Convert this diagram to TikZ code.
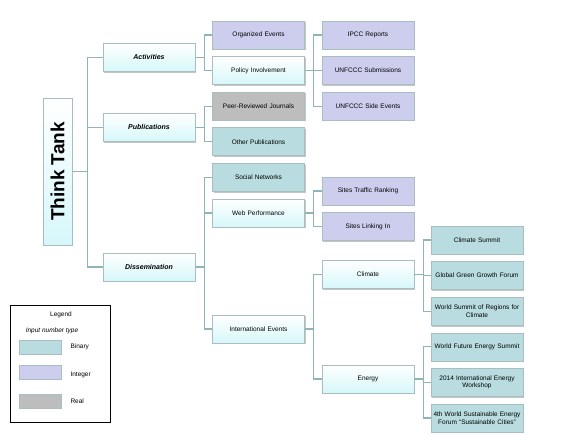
\documentclass[tikz,border=0pt]{standalone}
\usepackage{fontspec}
\setmainfont{Liberation Sans}
\usepackage{xcolor}
\usetikzlibrary{positioning, shadows}

\definecolor{catcyan}{HTML}{D6F7FA}
\definecolor{binteal}{HTML}{B8DCDF}
\definecolor{intlav}{HTML}{CDCDEE}
\definecolor{realgray}{HTML}{BDBDBD}
\definecolor{edgegray}{HTML}{A8BEC1}
\definecolor{branchcol}{HTML}{8FB5B7}

\begin{document}
\begin{tikzpicture}[x=1pt, y=-1pt, node distance=7pt and 17pt]
    \tikzset{
        box/.style={rectangle, draw=edgegray, line width=0.6pt, minimum width=92pt, minimum height=28pt, text width=90pt, align=center, inner sep=1pt, font=\fontsize{6.5}{7.8}\selectfont, drop shadow={shadow xshift=1pt, shadow yshift=-1.3pt, fill=black!45, opacity=0.5}},
        cat/.style={box, top color=white, bottom color=catcyan},
        head/.style={cat, font=\fontsize{7}{8}\selectfont\bfseries\itshape},
        binbox/.style={box, fill=binteal},
        intbox/.style={box, fill=intlav},
        realbox/.style={box, fill=realgray},
        swatch/.style={rectangle, draw=edgegray, line width=0.5pt, minimum width=42pt, minimum height=14pt},
        branch/.style={draw=branchcol, line width=1.2pt}
    }
    \useasboundingbox (0,0) rectangle (580,435);

    % root and first level
    \node (ThinkTank) [cat, minimum width=29pt, minimum height=147pt, text width=, font=\fontsize{19}{19}\selectfont\bfseries] at (57.5,171.5) {\rotatebox{90}{Think Tank}};
    \node (Activities) [head] at (149,57.5) {Activities};
    \node (Publications) [head] at (149,127.5) {Publications};
    \node (Dissemination) [head] at (149,267) {Dissemination};

    % second level
    \node (Organized) [intbox] at (258.5,35) {Organized Events};
    \node (Policy) [cat, below=of Organized] {Policy Involvement};
    \node (PeerRev) [realbox, below=of Policy] {Peer-Reviewed Journals};
    \node (OtherPub) [binbox, below=of PeerRev] {Other Publications};
    \node (Social) [binbox, below=of OtherPub] {Social Networks};
    \node (WebPerf) [cat, below=of Social] {Web Performance};
    \node (IntEvents) [cat] at (258.5,329) {International Events};

    % third level
    \node (IPCC) [intbox] at (368,35) {IPCC Reports};
    \node (UNSub) [intbox, below=of IPCC] {UNFCCC Submissions};
    \node (UNSide) [intbox, below=of UNSub] {UNFCCC Side Events};
    \node (Traffic) [intbox] at (368,191) {Sites Traffic Ranking};
    \node (Linking) [intbox, below=of Traffic] {Sites Linking In};
    \node (Climate) [cat] at (368,274.5) {Climate};
    \node (Energy) [cat] at (368,379) {Energy};

    % fourth level
    \node (ClimSummit) [binbox] at (477,240) {Climate Summit};
    \node (GreenGrowth) [binbox, below=of ClimSummit] {Global Green Growth Forum};
    \node (Regions) [binbox, below=of GreenGrowth] {World Summit of Regions for\\Climate};
    \node (FutureEnergy) [binbox, below=of Regions] {World Future Energy Summit};
    \node (Workshop) [binbox, below=of FutureEnergy] {2014 International Energy\\Workshop};
    \node (SustEnergy) [binbox, below=of Workshop] {4th World Sustainable Energy\\Forum ``Sustainable Cities''};

    % connectors
    \path [branch] (ThinkTank.east) -- ++(15,0) |- (Activities.west);
    \path [branch] (ThinkTank.east) -- ++(15,0) |- (Publications.west);
    \path [branch] (ThinkTank.east) -- ++(15,0) |- (Dissemination.west);
    \path [branch] (Activities.east) -- ++(9,0) |- (Organized.west);
    \path [branch] (Activities.east) -- ++(9,0) |- (Policy.west);
    \path [branch] (Publications.east) -- ++(9,0) |- (PeerRev.west);
    \path [branch] (Publications.east) -- ++(9,0) |- (OtherPub.west);
    \path [branch] (Dissemination.east) -- ++(9,0) |- (Social.west);
    \path [branch] (Dissemination.east) -- ++(9,0) |- (WebPerf.west);
    \path [branch] (Dissemination.east) -- ++(9,0) |- (IntEvents.west);
    \path [branch] (Policy.east) -- ++(9,0) |- (IPCC.west);
    \path [branch] (Policy.east) -- ++(9,0) |- (UNSub.west);
    \path [branch] (Policy.east) -- ++(9,0) |- (UNSide.west);
    \path [branch] (WebPerf.east) -- ++(9,0) |- (Traffic.west);
    \path [branch] (WebPerf.east) -- ++(9,0) |- (Linking.west);
    \path [branch] (IntEvents.east) -- ++(9,0) |- (Climate.west);
    \path [branch] (IntEvents.east) -- ++(9,0) |- (Energy.west);
    \path [branch] (Climate.east) -- ++(9,0) |- (ClimSummit.west);
    \path [branch] (Climate.east) -- ++(9,0) |- (GreenGrowth.west);
    \path [branch] (Climate.east) -- ++(9,0) |- (Regions.west);
    \path [branch] (Energy.east) -- ++(9,0) |- (FutureEnergy.west);
    \path [branch] (Energy.east) -- ++(9,0) |- (Workshop.west);
    \path [branch] (Energy.east) -- ++(9,0) |- (SustEnergy.west);

    % legend
    \node (Legend) [draw=black, line width=1pt, minimum width=100pt, minimum height=117pt, drop shadow={shadow xshift=0.8pt, shadow yshift=-0.8pt, fill=black!40, opacity=0.5}, fill=white] at (60,363.5) {};
    \node (LegendTitle) [font=\fontsize{6.5}{7.5}\selectfont] at (61,315) {Legend};
    \node (InputType) [font=\fontsize{6.5}{7.5}\selectfont\itshape] at (52,331) {Input number type};
    \node (BinSw) [swatch, fill=binteal] at (40,347) {};
    \node (IntSw) [swatch, fill=intlav] at (40,372) {};
    \node (RealSw) [swatch, fill=realgray] at (40,401) {};
    \node (BinLbl) [anchor=west, font=\fontsize{6.5}{7.5}\selectfont] at (67,347) {Binary};
    \node (IntLbl) [anchor=west, font=\fontsize{6.5}{7.5}\selectfont] at (67,375) {Integer};
    \node (RealLbl) [anchor=west, font=\fontsize{6.5}{7.5}\selectfont] at (67,401) {Real};
\end{tikzpicture}
\end{document}
